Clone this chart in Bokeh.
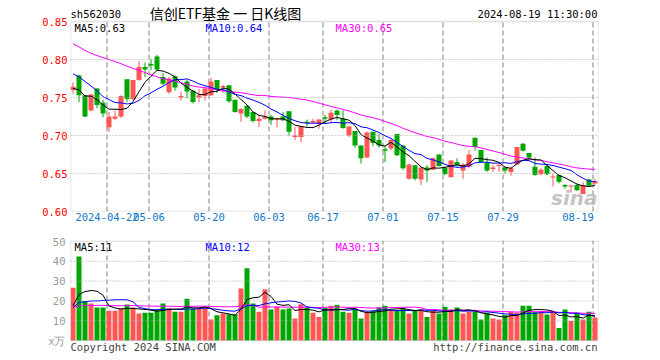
from bokeh.plotting import figure
from bokeh.models import Span, Label, FixedTicker, Range1d, BoxAnnotation
from bokeh.layouts import column
from bokeh.embed import file_html
from bokeh.resources import INLINE
import numpy as np

# ---------------- data ----------------
tick_idx = [6, 13, 23, 33, 42, 52, 62, 72, 87]
tick_labels = ["2024-04-22", "05-06", "05-20", "06-03", "06-17", "07-01", "07-15", "07-29", "08-19"]

open_ = [0.760, 0.779, 0.753, 0.733, 0.762, 0.743, 0.711, 0.722, 0.725, 0.774,
         0.748, 0.773, 0.790, 0.794, 0.804, 0.777, 0.757, 0.778, 0.750, 0.771,
         0.759, 0.750, 0.752, 0.753, 0.773, 0.763, 0.766, 0.747, 0.729, 0.739,
         0.731, 0.719, 0.722, 0.725, 0.721, 0.725, 0.732, 0.698, 0.698, 0.718,
         0.717, 0.715, 0.724, 0.721, 0.733, 0.722, 0.700, 0.706, 0.687, 0.671,
         0.705, 0.694, 0.682, 0.683, 0.702, 0.687, 0.643, 0.661, 0.642, 0.658,
         0.655, 0.675, 0.658, 0.645, 0.665, 0.654, 0.659, 0.697, 0.681, 0.664,
         0.656, 0.660, 0.658, 0.652, 0.662, 0.689, 0.677, 0.659, 0.649, 0.660,
         0.645, 0.648, 0.635, 0.633, 0.635, 0.623, 0.642, 0.637]
high = [0.770, 0.780, 0.753, 0.754, 0.762, 0.747, 0.731, 0.733, 0.753, 0.774,
        0.773, 0.798, 0.796, 0.801, 0.806, 0.782, 0.777, 0.779, 0.758, 0.773,
        0.760, 0.761, 0.764, 0.776, 0.773, 0.767, 0.766, 0.747, 0.736, 0.740,
        0.731, 0.727, 0.733, 0.727, 0.723, 0.731, 0.732, 0.711, 0.712, 0.721,
        0.722, 0.721, 0.727, 0.734, 0.734, 0.733, 0.712, 0.706, 0.687, 0.705,
        0.705, 0.702, 0.686, 0.696, 0.702, 0.687, 0.663, 0.661, 0.658, 0.661,
        0.671, 0.675, 0.658, 0.668, 0.670, 0.664, 0.681, 0.697, 0.681, 0.671,
        0.661, 0.664, 0.659, 0.659, 0.685, 0.690, 0.677, 0.671, 0.657, 0.662,
        0.650, 0.648, 0.636, 0.634, 0.637, 0.639, 0.643, 0.643]
low = [0.755, 0.744, 0.724, 0.732, 0.736, 0.724, 0.705, 0.720, 0.723, 0.744,
       0.747, 0.772, 0.777, 0.786, 0.785, 0.766, 0.755, 0.759, 0.746, 0.749,
       0.742, 0.744, 0.746, 0.752, 0.756, 0.756, 0.743, 0.730, 0.718, 0.723,
       0.717, 0.711, 0.721, 0.714, 0.711, 0.719, 0.700, 0.694, 0.691, 0.712,
       0.716, 0.709, 0.716, 0.717, 0.720, 0.709, 0.698, 0.684, 0.663, 0.670,
       0.686, 0.684, 0.665, 0.681, 0.673, 0.655, 0.642, 0.641, 0.635, 0.639,
       0.655, 0.659, 0.648, 0.645, 0.659, 0.643, 0.657, 0.680, 0.664, 0.652,
       0.652, 0.652, 0.650, 0.647, 0.661, 0.679, 0.668, 0.647, 0.648, 0.648,
       0.633, 0.637, 0.630, 0.625, 0.627, 0.623, 0.633, 0.635]
close = [0.764, 0.753, 0.725, 0.754, 0.740, 0.729, 0.725, 0.725, 0.752, 0.748,
         0.773, 0.790, 0.787, 0.792, 0.787, 0.768, 0.775, 0.763, 0.752, 0.758,
         0.744, 0.753, 0.762, 0.771, 0.761, 0.765, 0.745, 0.731, 0.735, 0.725,
         0.719, 0.722, 0.725, 0.720, 0.723, 0.720, 0.705, 0.700, 0.712, 0.716,
         0.719, 0.721, 0.722, 0.730, 0.727, 0.710, 0.712, 0.687, 0.670, 0.704,
         0.690, 0.687, 0.680, 0.694, 0.674, 0.657, 0.662, 0.643, 0.658, 0.654,
         0.670, 0.660, 0.649, 0.667, 0.661, 0.662, 0.675, 0.685, 0.665, 0.654,
         0.658, 0.661, 0.654, 0.657, 0.685, 0.680, 0.671, 0.648, 0.655, 0.649,
         0.646, 0.639, 0.633, 0.634, 0.628, 0.635, 0.634, 0.640]
# closes before the first visible day (estimated from where the MA lines start)
prior_close = [0.872, 0.868, 0.865, 0.830, 0.812, 0.798, 0.805, 0.838, 0.850, 0.856,
               0.868, 0.875, 0.880, 0.866, 0.838, 0.822, 0.815, 0.818, 0.812, 0.820,
               0.793, 0.785, 0.814, 0.800, 0.809, 0.763, 0.765, 0.755, 0.763]

volume = [26.6, 42.4, 20.0, 18.7, 16.7, 16.7, 15.0, 15.0, 16.2, 18.2,
          16.7, 13.6, 14.0, 14.0, 15.7, 18.7, 16.2, 14.5, 14.5, 21.1,
          16.2, 16.2, 16.7, 10.6, 12.8, 13.6, 13.3, 13.3, 26.3, 36.5,
          18.7, 14.5, 25.8, 15.7, 17.0, 15.7, 16.2, 11.1, 18.3, 17.0,
          14.0, 11.9, 16.5, 17.5, 18.0, 14.5, 14.0, 16.2, 11.1, 14.5,
          15.0, 16.7, 17.5, 15.3, 15.3, 16.2, 13.6, 15.3, 15.7, 11.9,
          15.0, 13.6, 17.0, 15.7, 16.7, 13.6, 14.5, 14.5, 10.6, 14.0,
          11.1, 10.6, 12.8, 14.5, 14.0, 17.5, 17.5, 14.5, 14.5, 13.1,
          14.5, 6.3, 15.7, 9.9, 14.0, 10.6, 14.5, 11.6]
prior_volume = [18.5, 15.2, 17.8, 14.6, 16.9, 19.4, 15.8, 17.2, 14.1, 16.5,
                18.9, 16.2, 15.4, 17.6, 19.8, 16.1, 15.0, 17.3, 16.4, 17.1,
                14.8, 16.9, 15.2, 15.9, 14.7, 13.6, 12.8, 15.9, 18.6]

price_ticks = [0.60, 0.65, 0.70, 0.75, 0.80, 0.85]
price_tick_labels = ["0.60", "0.65", "0.70", "0.75", "0.80", "0.85"]
vol_ticks = [0, 10, 20, 30, 40, 50]
vol_tick_labels = ["x万", "10", "20", "30", "40", "50"]

price_legend = [("MA5:0.63", "black"), ("MA10:0.64", "#0000ff"), ("MA30:0.65", "#ff00ff")]
vol_legend = [("MA5:11", "black"), ("MA10:12", "#0000ff"), ("MA30:13", "#ff00ff")]

# ---------------- styling ----------------
RED = "#ff5555"
GREEN = "#00a600"
GRID = "#aaaaaa"
FRAME = "#999999"
MONO = "DejaVu Sans Mono"
PX = 760.0          # pixels per 1.00 of price
VPX = 1.98          # pixels per 1 (x10k) of volume

n = len(close)
x = np.arange(n)
o = np.array(open_); c = np.array(close); h = np.array(high); l = np.array(low)
up = c >= o
cols = [RED if u else GREEN for u in up]


def ma(prior, series, w):
    full = np.array(list(prior) + list(series), dtype=float)
    out = np.convolve(full, np.ones(w) / w, mode="valid")
    return out[-len(series):]


X0 = -2.5 / 6
X1 = X0 + 528 / 6
XR = Range1d(X0, X1)
xt = [round(k - 0.333, 3) for k in tick_idx]
# label positions: the last date label is pulled left so it stays inside the frame
xl = xt[:-1] + [round(xt[-1] - 2.5, 3)]

# ================= price figure (frame spans header too) =================
FH1 = 211
p1 = figure(width=650, height=228, output_backend="svg", toolbar_location=None,
            x_range=XR, y_range=Range1d(0.60, 0.60 + FH1 / PX),
            min_border_left=70, min_border_right=52, min_border_top=0, min_border_bottom=17,
            frame_width=528, frame_height=FH1)
p1.xgrid.visible = False
p1.ygrid.visible = False
p1.outline_line_color = None

for yv in [0.65, 0.70, 0.75, 0.80]:
    p1.add_layout(Span(location=yv, dimension="width", line_color=GRID, line_dash="1 2", line_width=1))
p1.segment(x0=xt, x1=xt, y0=0.60, y1=0.85, line_color=GRID, line_dash="5 3", line_width=1.5)
p1.add_layout(BoxAnnotation(left=X0, right=X1, bottom=0.60, top=0.85, fill_alpha=0,
                            line_color=FRAME, line_width=1.5))

bt = np.maximum(o, c); bb = np.minimum(o, c)
small = (bt - bb) < 0.0013
mid = (bt + bb) / 2
bt = np.where(small, mid + 0.00066, bt)
bb = np.where(small, mid - 0.00066, bb)

p1.segment(x0=x, x1=x, y0=l, y1=h, line_color=cols, line_width=1)
p1.vbar(x=x, width=5 / 6, top=bt, bottom=bb, fill_color=cols, line_color=None)

p1.line(x, ma(prior_close, close, 30), line_color="#ff00ff", line_width=1)
p1.line(x, ma(prior_close, close, 10), line_color="#0000ff", line_width=1)
p1.line(x, ma(prior_close, close, 5), line_color="black", line_width=1)

p1.yaxis.ticker = FixedTicker(ticks=price_ticks)
p1.yaxis.major_label_overrides = dict(zip(price_ticks, price_tick_labels))
p1.yaxis.major_label_text_color = "#ff0000"
p1.yaxis.major_label_text_font = MONO
p1.yaxis.major_label_text_font_size = "10.5px"
p1.yaxis.major_tick_line_color = None
p1.yaxis.minor_tick_line_color = None
p1.yaxis.major_tick_out = 0
p1.yaxis.major_tick_in = 0
p1.yaxis.axis_line_color = None
p1.yaxis.major_label_standoff = 3

p1.xaxis.ticker = FixedTicker(ticks=xl)
p1.xaxis.major_label_overrides = dict(zip(xl, tick_labels))
p1.xaxis.major_label_text_color = "#1478c8"
p1.xaxis.major_label_text_font = MONO
p1.xaxis.major_label_text_font_size = "10.5px"
p1.xaxis.major_tick_line_color = None
p1.xaxis.minor_tick_line_color = None
p1.xaxis.major_tick_out = 0
p1.xaxis.major_tick_in = 0
p1.xaxis.axis_line_color = None
p1.xaxis.major_label_standoff = 1


def lab(p, fl, fb, X, Y, text, color, size="10.5px", align="left", font=MONO, style="normal", alpha=1.0):
    p.add_layout(Label(x=X - fl, y=fb - Y, x_units="screen", y_units="screen", text=text,
                       text_color=color, text_font=font, text_font_size=size,
                       text_align=align, text_baseline="middle", text_font_style=style,
                       text_alpha=alpha))


FL1, FB1 = 70, 211
lab(p1, FL1, FB1, 70, 13, "sh562030", "black")
lab(p1, FL1, FB1, 225, 12, "信创ETF基金 一 日K线图", "black", size="14px", align="center",
    font="Noto Sans CJK SC")
lab(p1, FL1, FB1, 597, 13, "2024-08-19 11:30:00", "black", align="right")
for (t, col), X in zip(price_legend, [74, 205, 335]):
    lab(p1, FL1, FB1, X, 27, t, col)
lab(p1, FL1, FB1, 597, 197, "sina", "#b4b4b4", size="20px", align="right", font="DejaVu Sans",
    style="bold italic", alpha=0.8)

# ================= volume figure (frame spans footer too) =================
FH2 = 118
p2 = figure(width=650, height=130, output_backend="svg", toolbar_location=None,
            x_range=XR, y_range=Range1d(-18 / VPX, 100 / VPX),
            min_border_left=70, min_border_right=52, min_border_top=12, min_border_bottom=0,
            frame_width=528, frame_height=FH2)
p2.xgrid.visible = False
p2.ygrid.visible = False
p2.xaxis.visible = False
p2.outline_line_color = None

for yv in [10, 20, 30, 40]:
    p2.add_layout(Span(location=yv, dimension="width", line_color=GRID, line_dash="1 2", line_width=1))
p2.segment(x0=xt, x1=xt, y0=0, y1=100 / VPX, line_color=GRID, line_dash="5 3", line_width=1.5)
p2.add_layout(BoxAnnotation(left=X0, right=X1, bottom=0, top=99.3 / VPX, fill_alpha=0,
                            line_color=FRAME, line_width=1.5))

p2.vbar(x=x, width=5 / 6, top=volume, bottom=0, fill_color=cols, line_color=None)
p2.line(x, ma(prior_volume, volume, 30), line_color="#ff00ff", line_width=1)
p2.line(x, ma(prior_volume, volume, 10), line_color="#0000ff", line_width=1)
p2.line(x, ma(prior_volume, volume, 5), line_color="black", line_width=1)

p2.yaxis.ticker = FixedTicker(ticks=vol_ticks)
p2.yaxis.major_label_overrides = dict(zip(vol_ticks, vol_tick_labels))
p2.yaxis.major_label_text_color = "#999999"
p2.yaxis.major_label_text_font = MONO
p2.yaxis.major_label_text_font_size = "10.5px"
p2.yaxis.major_tick_line_color = None
p2.yaxis.minor_tick_line_color = None
p2.yaxis.major_tick_out = 0
p2.yaxis.major_tick_in = 0
p2.yaxis.axis_line_color = None
p2.yaxis.major_label_standoff = 5

FL2, FB2 = 70, 358
for (t, col), X in zip(vol_legend, [74, 205, 335]):
    lab(p2, FL2, FB2, X, 246, t, col)
lab(p2, FL2, FB2, 70, 346, "Copyright 2024 SINA.COM", "#444444")
lab(p2, FL2, FB2, 597, 346, "http://finance.sina.com.cn", "#444444", align="right")

layout = column(p1, p2, spacing=0)
open("out.html", "w").write(file_html(layout, INLINE))
